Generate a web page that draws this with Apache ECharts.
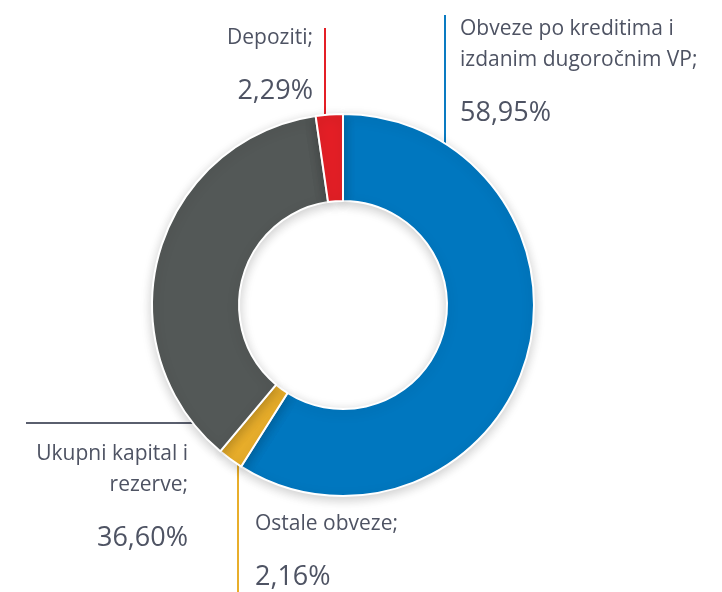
<!DOCTYPE html>
<html>
<head>
<meta charset="utf-8">
<script src="https://cdn.jsdelivr.net/npm/echarts@6/dist/echarts.min.js"></script>
<style>
  html, body { margin: 0; padding: 0; background: #fff; }
  #chart { width: 722px; height: 592px; }
</style>
</head>
<body>
<div id="chart"></div>
<script>
// podaci
var names = ['Obveze po kreditima i\nizdanim dugoročnim VP;', 'Ostale obveze;', 'Ukupni kapital i\nrezerve;', 'Depoziti;'];
var values = [58.95, 2.16, 36.60, 2.29];
var colors = ['#0077bf', '#e8ae2b', '#535857', '#e41f26'];
var lineColors = ['#0a7bc2', '#e8ae2b', '#5a5f6e', '#e41f26'];

// geometrija kruga
var CX = 343, CY = 305, R_IN = 104, R_OUT = 191;
function edgeY(x, dir){
	return CY + dir * Math.sqrt(R_OUT * R_OUT - (x - CX) * (x - CX));
}

// pozicije oznaka
var labelSpots = [
	{x: 460, y: 14, align: 'left', line: [[445, 15], [445, 80], [445, edgeY(445, -1)]]},
	{x: 255, y: 509, align: 'left', line: [[238, 592], [238, 520], [238, edgeY(238, 1)]]},
	{x: 188, y: 439, align: 'right', line: [[26, 423], [130, 423], [232, 423]]},
	{x: 313, y: 23, align: 'right', line: [[325, 28], [325, 70], [325, edgeY(325, -1)]]}
];

var data = values.map(function(v, i){
	return {
		name: names[i],
		value: v,
		itemStyle: {color: colors[i]},
		labelLine: {lineStyle: {color: lineColors[i], width: 2}}
	};
});

var myChart = echarts.init(document.getElementById('chart'));
myChart.setOption({
	animation: false,
	series: [{
		type: 'pie',
		center: [CX, CY],
		radius: [R_IN, R_OUT],
		startAngle: 90,
		clockwise: true,
		avoidLabelOverlap: false,
		data: data,
		itemStyle: {
			borderColor: '#fff',
			borderWidth: 2,
			shadowBlur: 12,
			shadowColor: 'rgba(0,0,0,0.2)',
			shadowOffsetY: 3
		},
		label: {
			show: true,
			position: 'outside',
			formatter: function(p){
				var lines = p.name.split('\n').map(function(s){ return '{n|' + s + '}'; });
				return lines.join('\n') + '\n{v|' + p.value.toFixed(2).replace('.', ',') + '%}';
			},
			rich: {
				n: {fontFamily: 'Open Sans', fontSize: 21, lineHeight: 31, color: '#4e5363'},
				v: {fontFamily: 'Open Sans', fontSize: 27, lineHeight: 74, color: '#4e5363'}
			}
		},
		labelLine: {show: true, length: 10, length2: 10},
		labelLayout: function(params){
			var s = labelSpots[params.dataIndex];
			return {
				x: s.x,
				y: s.y,
				align: s.align,
				verticalAlign: 'top',
				labelLinePoints: s.line
			};
		},
		emphasis: {disabled: true}
	}]
});
</script>
</body>
</html>
